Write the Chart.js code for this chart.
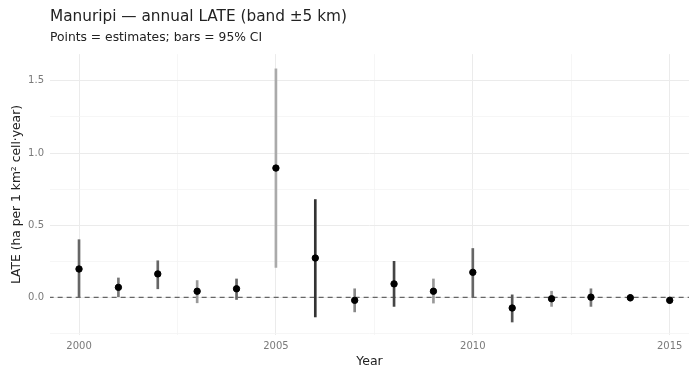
<!DOCTYPE html>
<html>
<head>
<meta charset="utf-8">
<script src="https://cdn.jsdelivr.net/npm/chart.js@4/dist/chart.umd.min.js"></script>
<style>
  body { margin: 0; background: #fff; }
  #wrap { width: 694px; height: 369px; }
</style>
</head>
<body>
<div id="wrap"><canvas id="lateChart"></canvas></div>
<script>
// annual LATE estimates and 95% CI
var years    = [2000, 2001, 2002, 2003, 2004, 2005, 2006, 2007, 2008, 2009, 2010, 2011, 2012, 2013, 2014, 2015];
var estimate = [0.197, 0.070, 0.163, 0.043, 0.060, 0.896, 0.273, -0.020, 0.094, 0.043, 0.174, -0.073, -0.009, 0.002, -0.002, -0.020];
var ciLow    = [0.000, 0.005, 0.060, -0.037, -0.014, 0.208, -0.135, -0.100, -0.062, -0.039, 0.000, -0.170, -0.062, -0.062, -0.025, -0.040];
var ciHigh   = [0.400, 0.135, 0.254, 0.117, 0.128, 1.583, 0.678, 0.060, 0.250, 0.128, 0.339, 0.018, 0.043, 0.060, 0.020, 0.002];
var barShade = ['#666', '#777', '#666', '#999', '#666', '#aaa', '#333', '#888', '#444', '#999', '#666', '#555', '#999', '#777', '#666', '#666'];
var yTickLabels = ['0.0', '0.5', '1.0', '1.5'];
var xTickLabels = ['2000', '2005', '2010', '2015'];

var FONT = 'DejaVu Sans, Liberation Sans, sans-serif';

var ctx = document.getElementById('lateChart').getContext('2d');

var ciData = years.map(function (yr, i) { return { x: yr, y: [ciLow[i], ciHigh[i]] }; });
var pointData = years.map(function (yr, i) { return { x: yr, y: estimate[i] }; });

var chart = new Chart(ctx, {
    type: 'bar',
    data: {
        datasets: [
            {
                type: 'line',
                label: 'zero',
                data: [{ x: 1999, y: 0 }, { x: 2016, y: 0 }],
                borderColor: '#666',
                borderWidth: 1.3,
                borderDash: [5, 4],
                pointRadius: 0,
                order: 3
            },
            {
                label: '95% CI',
                data: ciData,
                backgroundColor: barShade,
                borderWidth: 0,
                barThickness: 2,
                order: 2
            },
            {
                type: 'scatter',
                label: 'estimate',
                data: pointData,
                backgroundColor: '#000',
                borderColor: '#000',
                pointRadius: 3.2,
                order: 1
            }
        ]
    },
    options: {
        responsive: true,
        maintainAspectRatio: false,
        animation: false,
        layout: { padding: { left: 0, right: 0, top: 0, bottom: 0 } },
        plugins: {
            legend: { display: false },
            tooltip: { enabled: false },
            title: {
                display: true,
                fullSize: false,
                text: 'Manuripi \u2014 annual LATE (band \u00b15 km)',
                align: 'start',
                color: '#222',
                font: { family: FONT, size: 15.3, weight: 'normal' },
                padding: { top: 8, bottom: 0 }
            },
            subtitle: {
                display: true,
                fullSize: false,
                text: 'Points = estimates; bars = 95% CI',
                align: 'start',
                color: '#222',
                font: { family: FONT, size: 12.3 },
                padding: { top: 4.5, bottom: 8.5 }
            }
        },
        scales: {
            x: {
                type: 'linear',
                offset: false,
                min: 1999.263,
                max: 2015.49,
                afterBuildTicks: function (scale) {
                    var t = [];
                    for (var v = 2000; v <= 2015; v += 2.5) t.push({ value: v });
                    scale.ticks = t;
                },
                afterFit: function (scale) {
                    scale.height = 34;
                    scale.paddingLeft = 0;
                    scale.paddingRight = 0;
                },
                ticks: {
                    autoSkip: false,
                    maxRotation: 0,
                    color: '#7a7a7a',
                    padding: 5,
                    font: { family: FONT, size: 10 },
                    callback: function (v) {
                        var idx = [2000, 2005, 2010, 2015].indexOf(v);
                        return idx >= 0 ? xTickLabels[idx] : '';
                    }
                },
                grid: {
                    offset: false,
                    color: function (c) { return c.tick && c.tick.value % 5 === 0 ? '#ebebeb' : '#f4f4f4'; },
                    lineWidth: function (c) { return c.tick && c.tick.value % 5 === 0 ? 1 : 0.8; },
                    drawTicks: false
                },
                border: { display: false },
                title: {
                    display: true,
                    text: 'Year',
                    color: '#222',
                    font: { family: FONT, size: 12.5 },
                    padding: { top: 0, bottom: 0 }
                }
            },
            y: {
                min: -0.26,
                max: 1.685,
                afterBuildTicks: function (scale) {
                    var t = [];
                    for (var v = -0.25; v <= 1.51; v += 0.25) t.push({ value: Math.round(v * 100) / 100 });
                    scale.ticks = t;
                },
                afterFit: function (scale) { scale.width = 50; },
                ticks: {
                    autoSkip: false,
                    color: '#7a7a7a',
                    padding: 6,
                    font: { family: FONT, size: 10 },
                    callback: function (v) {
                        var idx = [0, 0.5, 1, 1.5].indexOf(v);
                        return idx >= 0 ? yTickLabels[idx] : '';
                    }
                },
                grid: {
                    color: function (c) { return c.tick && (c.tick.value * 2) % 1 === 0 ? '#ebebeb' : '#f4f4f4'; },
                    lineWidth: function (c) { return c.tick && (c.tick.value * 2) % 1 === 0 ? 1 : 0.8; },
                    drawTicks: false
                },
                border: { display: false },
                title: {
                    display: true,
                    text: 'LATE (ha per 1 km\u00b2 cell\u00b7year)',
                    color: '#222',
                    font: { family: FONT, size: 12.3 },
                    padding: { top: 9, bottom: 0 }
                }
            }
        }
    }
});
</script>
</body>
</html>
